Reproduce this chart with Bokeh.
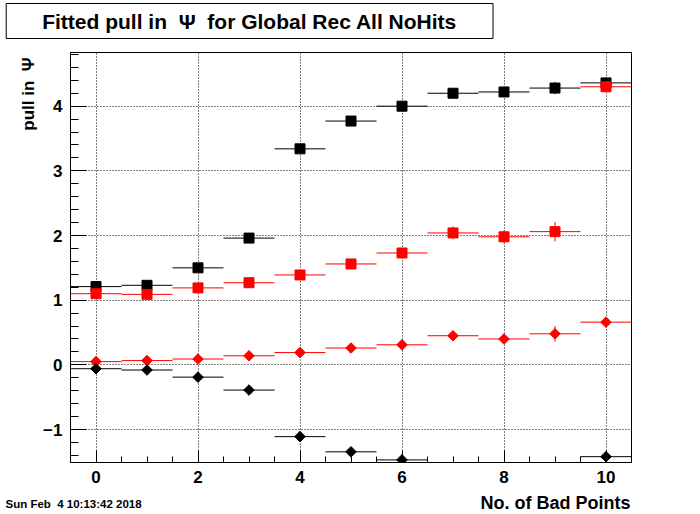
import math
from bokeh.plotting import figure
from bokeh.models import Range1d, FixedTicker, Label, Title
from bokeh.embed import file_html
from bokeh.resources import INLINE

# ---- data ----
bad_points = [0, 1, 2, 3, 4, 5, 6, 7, 8, 9, 10]

black_sq = [1.21, 1.23, 1.50, 1.96, 3.34, 3.77, 4.00, 4.20, 4.22, 4.28, 4.36]
black_sq_err = [0.02, 0.02, 0.03, 0.03, 0.04, 0.04, 0.04, 0.05, 0.05, 0.095, 0.05]

red_sq = [1.10, 1.09, 1.19, 1.27, 1.39, 1.56, 1.73, 2.04, 1.98, 2.06, 4.30]
red_sq_err = [0.02, 0.02, 0.02, 0.03, 0.03, 0.04, 0.04, 0.10, 0.10, 0.15, 0.05]

red_di = [0.05, 0.066, 0.09, 0.14, 0.19, 0.26, 0.31, 0.45, 0.40, 0.48, 0.66]
red_di_err = [0.01, 0.01, 0.01, 0.02, 0.02, 0.02, 0.03, 0.04, 0.04, 0.12, 0.04]

black_di = [-0.06, -0.08, -0.19, -0.39, -1.11, -1.345, -1.47, float("nan"), float("nan"), float("nan"), -1.42]
black_di_err = [0.01, 0.01, 0.01, 0.02, 0.02, 0.02, 0.03, 0.0, 0.0, 0.0, 0.04]

bin_half = 0.5

title_text = "Fitted pull in\u00a0 \u03a8\u00a0 for Global Rec All NoHits"
x_title = "No. of Bad Points"
y_title = "pull in\u00a0 \u03a8"
date_text = "Sun Feb\u00a0 4 10:13:42 2018"

x_major = [0, 2, 4, 6, 8, 10]
x_minor = [i * 0.5 - 0.5 for i in range(23)]
y_major = [-1, 0, 1, 2, 3, 4]
y_minor = [round(-1.4 + 0.2 * i, 2) for i in range(32)]

FONT = "Liberation Sans"

p = figure(width=700, height=514, output_backend="svg", toolbar_location=None,
           x_range=Range1d(-0.5, 10.5), y_range=Range1d(-1.51, 4.83),
           min_border_left=70, min_border_right=69, min_border_top=52, min_border_bottom=52)
p.background_fill_color = "white"
p.border_fill_color = "white"
p.outline_line_color = "black"
p.outline_line_width = 1

for ax, maj, mnr, tl in ((p.xaxis[0], x_major, x_minor, 12), (p.yaxis[0], y_major, y_minor, 16)):
    ax.ticker = FixedTicker(ticks=maj, minor_ticks=mnr)
    ax.major_tick_in = tl
    ax.major_tick_out = 0
    ax.minor_tick_in = tl // 2
    ax.minor_tick_out = 0
    ax.axis_line_color = "black"
    ax.major_tick_line_color = "black"
    ax.minor_tick_line_color = "black"
    ax.major_label_text_font = FONT
    ax.major_label_text_font_style = "bold"
    ax.major_label_text_font_size = "17px"
    ax.major_label_text_color = "black"
    ax.major_label_standoff = 8

p.yaxis[0].major_label_overrides = {-1: "\u22121"}

for g in (p.xgrid[0], p.ygrid[0]):
    g.grid_line_color = "black"
    g.grid_line_dash = "1 2"
    g.grid_line_width = 1

# y-axis title, top-aligned
p.add_layout(Title(text=y_title, align="right", offset=5, text_font=FONT, text_font_style="bold",
                   text_font_size="17px", text_color="black", standoff=6), "left")


def series(vals, errs, color, marker, size, angle=0.0):
    xs = [x for x, v in zip(bad_points, vals) if not math.isnan(v)]
    ys = [v for v in vals if not math.isnan(v)]
    es = [e for e, v in zip(errs, vals) if not math.isnan(v)]
    p.segment(x0=[x - bin_half for x in xs], y0=ys, x1=[x + bin_half for x in xs], y1=ys,
              line_color=color, line_width=1)
    p.segment(x0=xs, y0=[y - e for y, e in zip(ys, es)], x1=xs, y1=[y + e for y, e in zip(ys, es)],
              line_color=color, line_width=1)
    p.scatter(xs, ys, marker=marker, size=size, angle=angle,
              fill_color=color, line_color=color)


series(black_sq, black_sq_err, "black", "square", 10)
series(red_sq, red_sq_err, "red", "square", 10)
series(red_di, red_di_err, "red", "square", 7.5, math.pi / 4)
series(black_di, black_di_err, "black", "square", 7.5, math.pi / 4)

# ---- texts outside the frame (placed in side panels so they are not clipped) ----
p.add_layout(Label(x=3.012, y=5.317, text=title_text, text_align="center", text_baseline="middle",
                   text_font=FONT, text_font_style="bold", text_font_size="21px", text_color="black",
                   border_line_color="black", border_line_width=1, background_fill_color="white",
                   padding=(36, 6)), "above")
p.add_layout(Label(x=-1.775, y=-2.159, text=date_text, text_align="left", text_baseline="middle",
                   text_font=FONT, text_font_style="bold", text_font_size="11.5px", text_color="black"),
             "above")
p.add_layout(Label(x=10.48, y=-2.136, text=x_title, text_align="right", text_baseline="middle",
                   text_font=FONT, text_font_style="bold", text_font_size="18px", text_color="black"),
             "below")

open("out.html", "w").write(file_html(p, INLINE))
